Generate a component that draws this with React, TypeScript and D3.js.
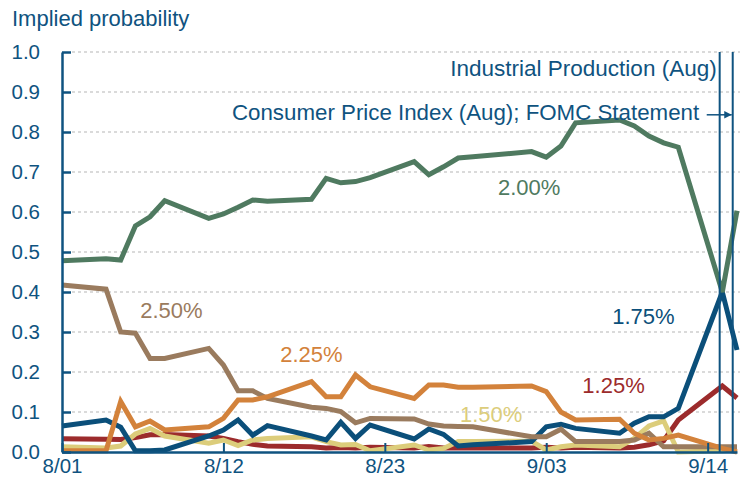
import React, { useEffect, useRef } from "react";
import { select, scaleTime, scaleLinear, axisLeft, axisBottom, line, timeParse, timeFormat } from "d3";

// trading days shown on the chart
const dates = [
  "2025-08-01", "2025-08-04", "2025-08-05", "2025-08-06", "2025-08-07", "2025-08-08",
  "2025-08-11", "2025-08-12", "2025-08-13", "2025-08-14", "2025-08-15",
  "2025-08-18", "2025-08-19", "2025-08-20", "2025-08-21", "2025-08-22",
  "2025-08-25", "2025-08-26", "2025-08-27", "2025-08-28", "2025-08-29",
  "2025-09-02", "2025-09-03", "2025-09-04", "2025-09-05",
  "2025-09-08", "2025-09-09", "2025-09-10", "2025-09-11", "2025-09-12",
  "2025-09-15", "2025-09-16",
];

const p125 = [0.033, 0.032, 0.031, 0.036, 0.043, 0.044, 0.04, 0.034, 0.026, 0.019, 0.015, 0.013, 0.01, 0.011, 0.01, 0.012, 0.01, 0.014, 0.01, 0.01, 0.01, 0.01, 0.012, 0.01, 0.012, 0.01, 0.012, 0.018, 0.028, 0.08, 0.165, 0.135];
const p150 = [0.013, 0.01, 0.015, 0.045, 0.059, 0.04, 0.022, 0.03, 0.016, 0.03, 0.034, 0.038, 0.026, 0.0175, 0.019, 0.003, 0.0175, 0.005, 0.009, 0.026, 0.026, 0.027, 0.005, 0.013, 0.0175, 0.013, 0.034, 0.065, 0.078, 0.0, 0.003, 0.005];
const p175 = [0.065, 0.08, 0.062, 0.003, 0.003, 0.005, 0.04, 0.055, 0.08, 0.042, 0.066, 0.04, 0.03, 0.074, 0.034, 0.0675, 0.0325, 0.0575, 0.044, 0.015, 0.018, 0.026, 0.063, 0.069, 0.059, 0.047, 0.072, 0.088, 0.088, 0.109, 0.4, 0.255];
const p250 = [0.4175, 0.407, 0.3, 0.297, 0.234, 0.234, 0.259, 0.2175, 0.153, 0.153, 0.134, 0.112, 0.109, 0.101, 0.073, 0.084, 0.0825, 0.07, 0.065, 0.064, 0.063, 0.038, 0.038, 0.057, 0.026, 0.026, 0.03, 0.047, 0.013, 0.013, 0.013, 0.013];
const p225 = [0.003, 0.003, 0.126, 0.063, 0.0775, 0.055, 0.063, 0.084, 0.13, 0.13, 0.138, 0.176, 0.138, 0.138, 0.1925, 0.163, 0.134, 0.1675, 0.1675, 0.162, 0.162, 0.165, 0.151, 0.1, 0.08, 0.082, 0.047, 0.03, 0.034, 0.0425, 0.009, 0.0];
const p200 = [0.478, 0.483, 0.48, 0.565, 0.588, 0.628, 0.584, 0.595, 0.612, 0.63, 0.627, 0.632, 0.684, 0.673, 0.676, 0.686, 0.726, 0.693, 0.713, 0.735, 0.738, 0.751, 0.737, 0.765, 0.823, 0.83, 0.815, 0.79, 0.773, 0.762, 0.4, 0.603];

const xTicks = ["2025-08-01", "2025-08-12", "2025-08-23", "2025-09-03", "2025-09-14"];
const yTicks = [0, 0.1, 0.2, 0.3, 0.4, 0.5, 0.6, 0.7, 0.8, 0.9, 1.0];

// release dates marked with vertical lines
const eventDates = ["2025-09-14 19:40", "2025-09-15 17:00"];

const series = [
  { name: "1.25%", values: p125, color: "#9c2b2c", label: ["2025-09-05 11:00", 0.1475] },
  { name: "1.50%", values: p150, color: "#dccd7b", label: ["2025-08-28 03:00", 0.075] },
  { name: "1.75%", values: p175, color: "#0b4f7a", label: ["2025-09-07 12:00", 0.32] },
  { name: "2.50%", values: p250, color: "#9a7b5e", label: ["2025-08-06 08:00", 0.335] },
  { name: "2.25%", values: p225, color: "#d3823b", label: ["2025-08-15 21:00", 0.225] },
  { name: "2.00%", values: p200, color: "#4f7a60", label: ["2025-08-30 17:00", 0.6425] },
];

const parseDay = timeParse("%Y-%m-%d");
const parseTime = timeParse("%Y-%m-%d %H:%M");
const blue = "#0f5380";
const font = "Liberation Sans, Arial, sans-serif";

const App = () => {
  const xAxisRef = useRef<SVGGElement>(null);
  const yAxisRef = useRef<SVGGElement>(null);

  const width = 745;
  const height = 500;
  const left = 62;
  const bottom = 452;

  const x = scaleTime()
    .domain([parseDay("2025-08-01")!, parseDay("2025-09-16")!])
    .range([left, 737]);
  const y = scaleLinear().domain([0, 1]).range([bottom, 52]);

  useEffect(() => {
    if (!xAxisRef.current || !yAxisRef.current) return;
    const fmt = timeFormat("%-m/%d");

    const gy = select(yAxisRef.current);
    gy.selectAll("*").remove();
    gy.call(
      axisLeft(y)
        .tickValues(yTicks)
        .tickFormat((d) => (d as number).toFixed(1))
        .tickSizeInner(-9)
        .tickSizeOuter(0)
        .tickPadding(22)
    );
    gy.select(".domain").attr("stroke", blue).attr("stroke-width", 2.5);
    gy.selectAll(".tick line").attr("stroke", blue).attr("stroke-width", 2.5);
    gy.selectAll(".tick text")
      .attr("fill", blue)
      .attr("font-size", 20.5)
      .attr("font-family", font);

    const gx = select(xAxisRef.current);
    gx.selectAll("*").remove();
    gx.call(
      axisBottom(x)
        .tickValues(xTicks.map((d) => parseDay(d)!))
        .tickFormat((d) => fmt(d as Date))
        .tickSizeInner(-9)
        .tickSizeOuter(0)
        .tickPadding(6)
    );
    gx.select(".domain").attr("stroke", blue).attr("stroke-width", 2.5);
    gx.selectAll(".tick line").attr("stroke", blue).attr("stroke-width", 2);
    gx.selectAll(".tick text")
      .attr("fill", blue)
      .attr("font-size", 20.5)
      .attr("font-family", font);
    // eslint-disable-next-line react-hooks/exhaustive-deps
  }, []);

  const dayDates = dates.map((d) => parseDay(d)!);
  const lineGen = line<number>()
    .x((_, i) => x(dayDates[i]))
    .y((d) => y(d));

  const ev = eventDates.map((d) => x(parseTime(d)!));

  return (
    <svg
      width={width}
      height={height}
      style={{ position: "absolute", left: 0, top: 0, background: "#fff" }}
      fontFamily={font}
    >
      <defs>
        <marker id="arr" viewBox="0 0 10 10" refX="10" refY="5" markerWidth="5" markerHeight="5" orient="auto">
          <path d="M0,0 L10,5 L0,10 z" fill={blue} />
        </marker>
      </defs>

      {/* 격자선 */}
      {yTicks
        .filter((t) => t > 0)
        .map((t) => (
          <line
            key={t}
            x1={left + 10}
            x2={740}
            y1={y(t)}
            y2={y(t)}
            stroke="#b5b5b5"
            strokeWidth={1}
            strokeDasharray="3,3"
          />
        ))}

      <text x={12} y={26} fontSize={22} fill={blue}>
        Implied probability
      </text>

      {/* 시리즈 선 */}
      {series.map((s) => (
        <path
          key={s.name}
          d={lineGen(s.values) || ""}
          fill="none"
          stroke={s.color}
          strokeWidth={5}
          strokeLinejoin="miter"
          strokeMiterlimit={3}
        />
      ))}

      {/* 이벤트 표시 */}
      {ev.map((ex, i) => (
        <line key={i} x1={ex} x2={ex} y1={y(1)} y2={bottom} stroke={blue} strokeWidth={2} />
      ))}

      <text x={ev[0] - 3} y={y(0.94)} fontSize={22.5} fill={blue} textAnchor="end">
        Industrial Production (Aug)
      </text>
      <text x={x(parseTime("2025-08-12 14:00")!)} y={y(0.83)} fontSize={22.3} fill={blue}>
        Consumer Price Index (Aug); FOMC Statement
      </text>
      <line
        x1={ev[1] - 26}
        x2={ev[1] - 1}
        y1={y(0.843)}
        y2={y(0.843)}
        stroke={blue}
        strokeWidth={1.5}
        markerEnd="url(#arr)"
      />

      {series.map((s) => (
        <text
          key={s.name + "-label"}
          x={x(parseTime(s.label[0] as string)!)}
          y={y(s.label[1] as number)}
          fontSize={22}
          fill={s.color}
        >
          {s.name}
        </text>
      ))}

      <g ref={yAxisRef} transform={`translate(${left},0)`} />
      <g ref={xAxisRef} transform={`translate(0,${bottom})`} />
    </svg>
  );
};

export default App;
